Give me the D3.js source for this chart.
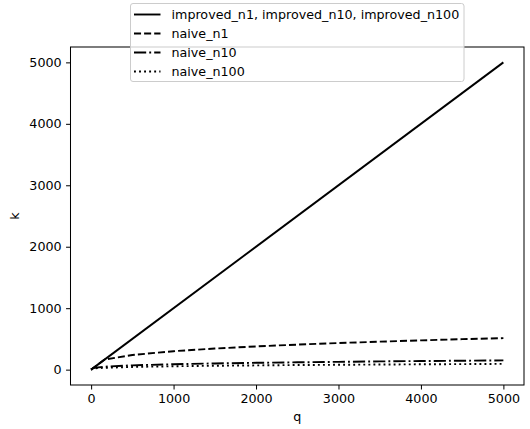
<!DOCTYPE html>
<html>
<head>
<meta charset="utf-8">
<script src="https://cdn.jsdelivr.net/npm/d3@7"></script>
<style>
  html, body { margin: 0; padding: 0; background: #fff; }
  svg { display: block; }
  text { font-family: "DejaVu Sans", sans-serif; }
</style>
</head>
<body>
<script>
// ---- data ----
const improvedQ = [0, 5000];
const improvedK = [0, 5000];

const naiveQ = [0, 11, 26, 164, 500, 1000, 1500, 2000, 2500, 3000, 3500, 4000, 4500, 5000];
const naiveN1 = [0, 11, 26, 164, 238, 300, 343, 378, 407, 433, 455, 476, 496, 513];
const naiveN10 = [0, 11, 26, 48, 70, 88, 101, 111, 119, 127, 134, 140, 145, 150];
const naiveN100 = [0, 11, 20, 30, 44, 55, 63, 69, 75, 79, 83, 87, 90, 94];

const xTicks = [0, 1000, 2000, 3000, 4000, 5000];
const yTicks = [0, 1000, 2000, 3000, 4000, 5000];

const legendLabels = ["improved_n1, improved_n10, improved_n100", "naive_n1", "naive_n10", "naive_n100"];

// ---- layout ----
const W = 530, H = 429;
const pt = 1.27;
const plot = { left: 70.5, right: 524, top: 47, bottom: 385 };
const fontPx = 12.7;

const svg = d3.select("body").append("svg").attr("width", W).attr("height", H);

const x = d3.scaleLinear().domain([-250, 5250]).range([plot.left, plot.right]);
const y = d3.scaleLinear().domain([-250, 5250]).range([plot.bottom, plot.top]);

const lw = 1.5 * pt;
const styles = [
  { dash: null },
  { dash: [3.7 * lw, 1.6 * lw] },
  { dash: [6.4 * lw, 1.6 * lw, 1 * lw, 1.6 * lw] },
  { dash: [1 * lw, 1.65 * lw] }
];

const line = d3.line().x(d => x(d[0])).y(d => y(d[1]));

const series = [
  d3.zip(improvedQ, improvedK),
  d3.zip(naiveQ, naiveN1),
  d3.zip(naiveQ, naiveN10),
  d3.zip(naiveQ, naiveN100)
];

const g = svg.append("g");
// draw naive series first, improved on top (matches overlap)
[1, 2, 3, 0].forEach(i => {
  g.append("path")
    .datum(series[i])
    .attr("d", line)
    .attr("fill", "none")
    .attr("stroke", "#000")
    .attr("stroke-width", lw)
    .attr("stroke-linecap", "butt")
    .attr("stroke-linejoin", "round")
    .attr("stroke-dasharray", styles[i].dash ? styles[i].dash.join(",") : null);
});

// axes
const tickLen = 3.5 * pt, tickPad = 3.5 * pt;
const xAxis = d3.axisBottom(x).tickValues(xTicks).tickFormat(d3.format("d"))
  .tickSizeInner(tickLen).tickSizeOuter(0).tickPadding(tickPad);
const yAxis = d3.axisLeft(y).tickValues(yTicks).tickFormat(d3.format("d"))
  .tickSizeInner(tickLen).tickSizeOuter(0).tickPadding(tickPad);

const gx = svg.append("g").attr("transform", `translate(0,${plot.bottom})`).call(xAxis);
const gy = svg.append("g").attr("transform", `translate(${plot.left},0)`).call(yAxis);
[gx, gy].forEach(a => {
  a.select(".domain").remove();
  a.selectAll("line").attr("stroke", "#000").attr("stroke-width", 0.8 * pt);
  a.selectAll("text").attr("font-size", fontPx).attr("fill", "#000")
    .attr("font-family", "DejaVu Sans, sans-serif");
});

// spines
svg.append("rect")
  .attr("x", plot.left).attr("y", plot.top)
  .attr("width", plot.right - plot.left).attr("height", plot.bottom - plot.top)
  .attr("fill", "none").attr("stroke", "#000").attr("stroke-width", 0.8 * pt);

// axis labels
svg.append("text").text("q")
  .attr("x", (plot.left + plot.right) / 2).attr("y", 421)
  .attr("text-anchor", "middle").attr("font-size", fontPx);
svg.append("text").text("k")
  .attr("transform", `translate(19,${(plot.top + plot.bottom) / 2}) rotate(-90)`)
  .attr("text-anchor", "middle").attr("font-size", fontPx);

// legend
const leg = svg.append("g");
leg.append("rect")
  .attr("x", 130.5).attr("y", 3.5).attr("width", 333.5).attr("height", 78)
  .attr("rx", 2.5).attr("ry", 2.5)
  .attr("fill", "#fff").attr("fill-opacity", 0.8)
  .attr("stroke", "#cccccc").attr("stroke-width", 1);
const rowY = [14.5, 33.5, 52.5, 71.5];
legendLabels.forEach((lab, i) => {
  leg.append("line")
    .attr("x1", 134).attr("x2", 160.5).attr("y1", rowY[i]).attr("y2", rowY[i])
    .attr("stroke", "#000").attr("stroke-width", lw).attr("stroke-linecap", "butt")
    .attr("stroke-dasharray", styles[i].dash ? styles[i].dash.join(",") : null);
  leg.append("text").text(lab)
    .attr("x", 171.5).attr("y", rowY[i] + 4.6)
    .attr("font-size", fontPx);
});
</script>
</body>
</html>
